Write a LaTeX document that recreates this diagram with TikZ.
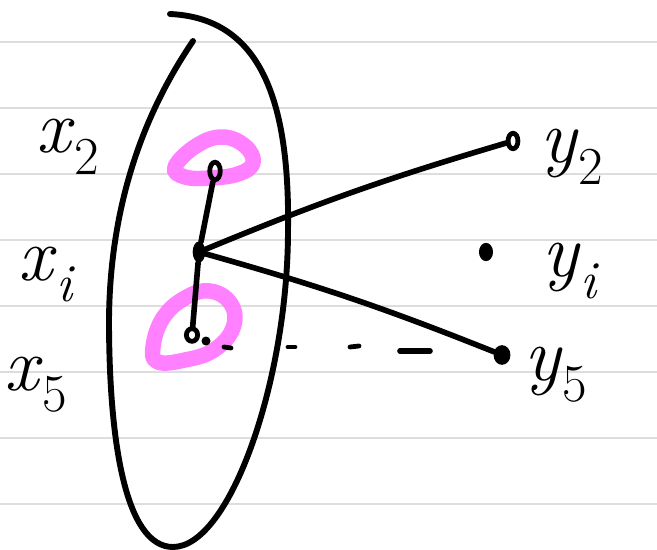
\documentclass[tikz,border=0pt]{standalone}
\usepackage{fontspec}
\usepackage{tikz}
\usetikzlibrary{shapes.geometric}
\definecolor{ink}{HTML}{000000}
\definecolor{rule}{HTML}{DDDDDD}
\definecolor{marker}{HTML}{FF74FF}
% letter with a lowered index, in scalable text fonts
\newcommand{\idx}[2]{\textit{#1}\raisebox{-0.28em}{\fontsize{38}{40}\selectfont #2}}

\begin{document}
\begin{tikzpicture}[
  x=0.025cm, y=-0.025cm,
  font=\fontsize{54}{60}\selectfont,
  pen/.style={draw=ink, line width=4pt, line cap=round, line join=round},
  ring/.style={ellipse, draw=ink, line width=3.4pt, inner sep=0pt, minimum width=7.5pt, minimum height=12.5pt},
  blob/.style={ellipse, fill=ink, inner sep=0pt, minimum width=9pt, minimum height=15pt},
  highlight/.style={draw=marker, opacity=0.9, line width=11pt, line cap=round, line join=round},
  lbl/.style={inner sep=0pt, text=ink, anchor=base west}
]
\useasboundingbox (0,0) rectangle (657,550);
\fill[white] (0,0) rectangle (657,550);

% ruled paper
\foreach \r in {42,108,...,504}
  \draw[rule, line width=2pt] (0,\r) -- (657,\r);

% the set X
\draw[pen, line width=4.2pt] (170,14) .. controls (255,18) and (290,90) .. (288,230)
  .. controls (288,380) and (230,547) .. (173,547)
  .. controls (125,547) and (109,440) .. (109,320)
  .. controls (110,180) and (160,90) .. (193,41);

% marker loops
\draw[highlight] plot[smooth cycle, tension=0.7] coordinates {(175,167) (196,146) (222,137) (245,146) (253,163) (238,174) (210,178) (185,177)};
\draw[highlight] plot[smooth cycle, tension=0.7] coordinates {(153,347) (163,318) (185,298) (210,291) (231,304) (233,328) (214,350) (185,360) (158,362)};

% points
\node[ring] (x2) at (215,171) {};
\node[blob] (xi) at (199,252) {};
\node[ring, minimum width=8pt, minimum height=9pt] (x5) at (192,335) {};
\node[ring, minimum width=7pt, minimum height=11pt] (y2) at (513,141) {};
\node[blob, minimum width=10pt, minimum height=13pt] (yi) at (486,252) {};
\node[blob, minimum width=12pt, minimum height=14pt] (y5) at (502,355) {};
\fill[ink] (206,341) circle (3.2pt);

% connectors
\draw[pen] (x2) -- (xi);
\draw[pen] (xi) -- (x5);
\draw[pen] (xi) to[bend left=3] (y2);
\draw[pen] (xi) to[bend left=3] (y5);

% dashes
\draw[pen, line width=3.4pt] (224,347) -- (231,348);
\draw[pen, line width=3.4pt] (288,347) -- (295,347);
\draw[pen, line width=3.4pt] (350,347) -- (359,346);
\draw[pen] (400,351) -- (430,351);

% labels
\node[lbl] (lx2) at (36,153) {\idx{x}{2}};
\node[lbl] (lxi) at (18,280) {\idx{x}{\textit{i}}};
\node[lbl] (lx5) at (4,390) {\idx{x}{5}};
\node[lbl] (ly2) at (540,163) {\idx{y}{2}};
\node[lbl] (lyi) at (542,277) {\idx{y}{\textit{i}}};
\node[lbl] (ly5) at (524,380) {\idx{y}{5}};

\end{tikzpicture}
\end{document}
